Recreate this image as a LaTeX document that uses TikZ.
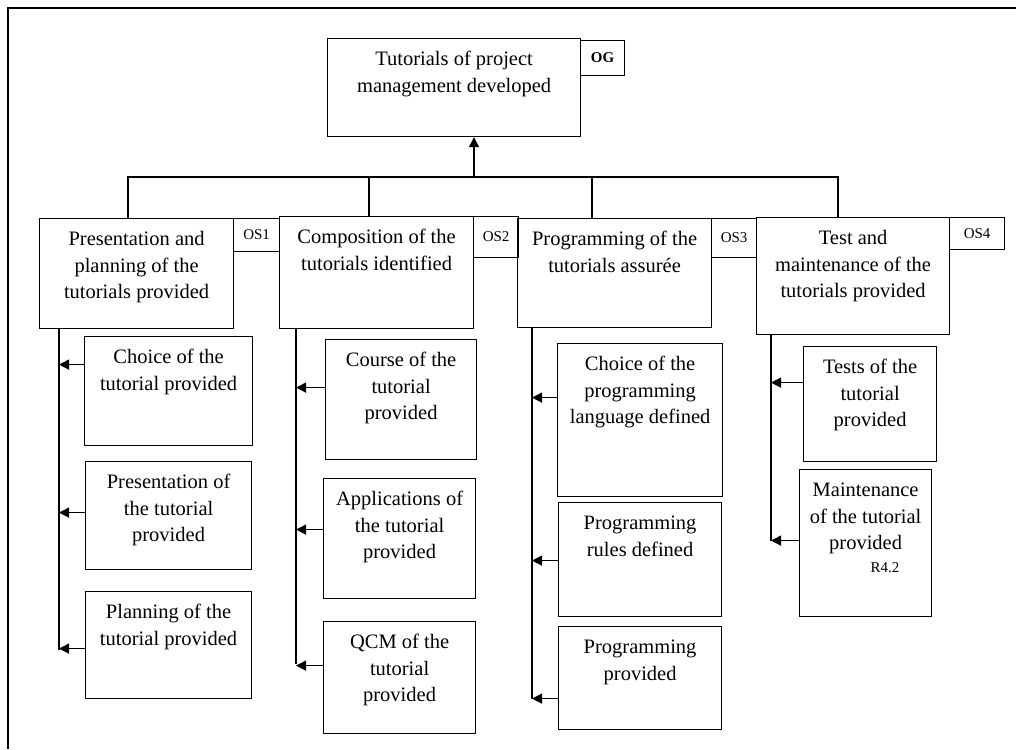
\documentclass[tikz,border=0pt]{standalone}
\usepackage{fontspec}
\setmainfont{Liberation Serif}
\usetikzlibrary{arrows.meta}
\newcommand{\boxtxt}[3]{\parbox[c][#2][t]{#1}{\centering\vspace*{8.5pt}\strut #3\par}}
\begin{document}
\begin{tikzpicture}[x=1pt,y=-1pt,
  box/.style={draw, line width=1.2pt, inner sep=0pt, anchor=north west, font=\fontsize{20.5}{26.5}\selectfont},
  tag/.style={draw, line width=1.2pt, inner sep=0pt, anchor=north west, font=\fontsize{15}{17}\selectfont},
  link/.style={line width=1.2pt},
  arr/.style={line width=1.2pt, -{Triangle[length=10pt,width=10pt]}}]
\useasboundingbox (0,0) rectangle (1016,749);
% frame
\draw[line width=1.8pt] (8,749) -- (8,8) -- (1016,8);
% top
\node[box] (og) at (327,38) {\boxtxt{253pt}{98pt}{Tutorials of project\\management developed}};
\node[tag, minimum width=44pt, minimum height=35pt, font=\fontsize{15}{17}\selectfont\bfseries] (ogt) at (580,40) {OG};
% level 1
\node[box] (b1) at (39,218) {\boxtxt{194pt}{110pt}{Presentation and\\planning of the\\tutorials provided}};
\node[tag, minimum width=46pt, minimum height=33pt] (os1) at (233,218) {OS1};
\node[box] (b2) at (279,216) {\boxtxt{194pt}{112pt}{Composition of the\\tutorials identified}};
\node[tag, minimum width=45pt, minimum height=41pt] (os2) at (473,216) {OS2};
\node[box] (b3) at (517,218) {\boxtxt{194pt}{109pt}{Programming of the\\tutorials assurée}};
\node[tag, minimum width=45pt, minimum height=39pt] (os3) at (711,218) {OS3};
\node[box] (b4) at (756,217) {\boxtxt{193pt}{117pt}{Test and\\maintenance of the\\tutorials provided}};
\node[tag, minimum width=55pt, minimum height=32pt] (os4) at (949,217) {OS4};
% level 2
\node[box] (c1a) at (84,336) {\boxtxt{168pt}{109pt}{Choice of the\\tutorial provided}};
\node[box] (c1b) at (85,461) {\boxtxt{166pt}{108pt}{Presentation of\\the tutorial\\provided}};
\node[box] (c1c) at (85,591) {\boxtxt{166pt}{107pt}{Planning of the\\tutorial provided}};
\node[box] (c2a) at (325,339) {\boxtxt{151pt}{120pt}{Course of the\\tutorial\\provided}};
\node[box] (c2b) at (323,478) {\boxtxt{152pt}{120pt}{Applications of\\the tutorial\\provided}};
\node[box] (c2c) at (323,621) {\boxtxt{152pt}{112pt}{QCM of the\\tutorial\\provided}};
\node[box] (c3a) at (557,343) {\boxtxt{165pt}{153pt}{Choice of the\\programming\\language defined}};
\node[box] (c3b) at (558,502) {\boxtxt{163pt}{114pt}{Programming\\rules defined}};
\node[box] (c3c) at (558,626) {\boxtxt{163pt}{103pt}{Programming\\provided}};
\node[box] (c4a) at (803,346) {\boxtxt{133pt}{115pt}{Tests of the\\tutorial\\provided}};
\node[box] (c4b) at (799,469) {\boxtxt{132pt}{147pt}{Maintenance\\of the tutorial\\provided}};
\node[font=\fontsize{15}{17}\selectfont, inner sep=0pt] (r42) at (885,568) {R4.2};
% connectors level 0-1
\coordinate (hub) at (474,177);
\coordinate (hl) at (128,177);
\coordinate (hr) at (838,177);
\coordinate (d2) at (369,177);
\coordinate (d3) at (592,177);
\draw[arr] (hub) -- (hub |- og.south);
\draw[link] (hl |- b1.north) -- (hl) -- (hr) -- (hr |- b4.north);
\draw[link] (d2) -- (d2 |- b2.north);
\draw[link] (d3) -- (d3 |- b3.north);
% columns
\coordinate (v1) at (59,650);
\coordinate (v2) at (296,664);
\coordinate (v3) at (532,699);
\coordinate (v4) at (771,541);
\draw[link] (v1 |- b1.south) -- (v1);
\draw[link] (v2 |- b2.south) -- (v2);
\draw[link] (v3 |- b3.south) -- (v3);
\draw[link] (v4 |- b4.south) -- (v4);
\foreach \n/\s/\v in {c1a/26.5/v1, c1b/3/v1, c1c/-3.5/v1,
                      c2a/12/v2, c2b/9/v2, c2c/12/v2,
                      c3a/22.5/v3, c3b/-1/v3, c3c/-20.5/v3,
                      c4a/21.5/v4, c4b/2.5/v4}
  \draw[arr] ([yshift=\s pt]\n.west) -- ([yshift=\s pt]\n.west -| \v);
\end{tikzpicture}
\end{document}
